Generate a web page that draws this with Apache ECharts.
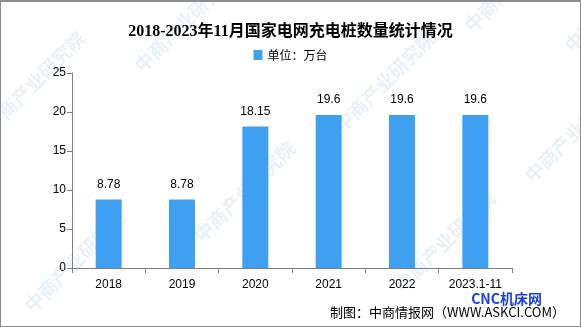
<!DOCTYPE html>
<html>
<head>
<meta charset="utf-8">
<script src="https://cdn.jsdelivr.net/npm/echarts@6/dist/echarts.min.js"></script>
<style>
  html, body { margin: 0; padding: 0; background: #fff; }
  #chart { width: 581px; height: 327px; box-sizing: border-box; border: 1px solid #8c8c8c; border-top: 2px solid #8c8c8c; }
</style>
</head>
<body>
<div id="chart"></div>
<script>
// Chart data
const categories = ['2018', '2019', '2020', '2021', '2022', '2023.1-11'];
const values = [8.78, 8.78, 18.15, 19.6, 19.6, 19.6];
const valueLabels = ['8.78', '8.78', '18.15', '19.6', '19.6', '19.6'];
const yTicks = [0, 5, 10, 15, 20, 25];

const chart = echarts.init(document.getElementById('chart'));

// Faint diagonal watermark texts
const marks = [];
const markPos = [[-20, 120], [130, 60], [190, 230], [330, 120], [390, 280], [520, 170], [20, 300], [560, 40], [460, 20]];
markPos.forEach(function (p) {
  marks.push({
    type: 'text', x: p[0], y: p[1], rotation: Math.PI / 4, z: 0,
    style: { text: '中商产业研究院', fill: 'rgba(150,190,225,0.22)', font: 'bold 19px "Noto Sans CJK SC"' }
  });
});

const labelFont = '"Liberation Sans", Arial, sans-serif';

chart.setOption({
  animation: false,
  title: {
    text: '2018-2023年11月国家电网充电桩数量统计情况',
    left: 'center', top: 17,
    textStyle: { fontFamily: '"Liberation Serif", "Noto Sans CJK SC"', fontWeight: 'bold', fontSize: 16, color: '#000' }
  },
  legend: {
    data: [{ name: '单位：万台', icon: 'rect' }], top: 42, left: 'center',
    itemWidth: 9, itemHeight: 10, itemGap: 4,
    textStyle: { fontFamily: '"Noto Sans CJK SC"', fontSize: 12, color: '#000' }
  },
  grid: { left: 71, right: 68, top: 71, bottom: 58 },
  xAxis: {
    type: 'category', data: categories,
    axisLine: { lineStyle: { color: '#808080' } },
    axisTick: { show: true, length: 5, lineStyle: { color: '#808080' } },
    axisLabel: { interval: 0, color: '#000', fontFamily: labelFont, fontSize: 12, margin: 11 }
  },
  yAxis: {
    type: 'value', min: 0, max: 25, interval: 5,
    axisLine: { show: true, lineStyle: { color: '#808080' } },
    axisTick: { show: true, length: 5, lineStyle: { color: '#808080' } },
    splitLine: { show: false },
    axisLabel: {
      color: '#000', fontFamily: labelFont, fontSize: 12, margin: 6,
      formatter: function (v) { return yTicks.indexOf(v) >= 0 ? String(v) : ''; }
    }
  },
  series: [{
    name: '单位：万台', type: 'bar', data: values, barWidth: 26,
    itemStyle: { color: '#3f9ff0' },
    label: {
      show: true, position: 'top', distance: 9, color: '#000',
      fontFamily: labelFont, fontSize: 12,
      formatter: function (p) { return valueLabels[p.dataIndex]; }
    }
  }],
  graphic: marks.concat([
    {
      type: 'text', right: 38, top: 290, z: 10,
      style: { text: 'CNC机床网', fill: '#1a3fe0', font: 'bold 14px "Noto Sans CJK SC"' }
    },
    {
      type: 'text', right: 15, top: 304, z: 10,
      style: { text: '制图：中商情报网（WWW.ASKCI.COM）', fill: '#000', font: '13px "Noto Sans CJK SC"' }
    }
  ])
});
</script>
</body>
</html>
